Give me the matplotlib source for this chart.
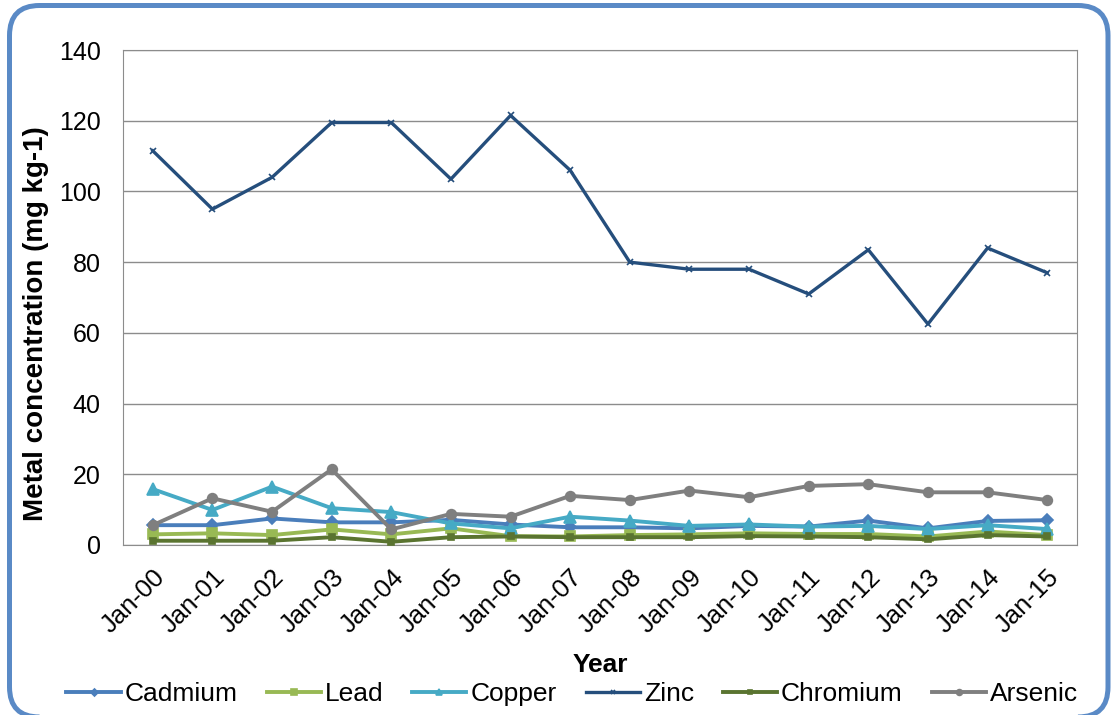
import numpy as np
import matplotlib
matplotlib.use('Agg')
from matplotlib import pyplot as plt
from matplotlib.patches import FancyBboxPatch
from matplotlib.transforms import IdentityTransform

years = ['Jan-%02d' % i for i in range(16)]

cadmium = [5.6, 5.6, 7.5, 6.4, 6.4, 7.1, 5.8, 5.0, 5.0, 4.7, 5.4, 5.2, 6.9, 4.7, 6.8, 7.0]
lead = [3.0, 3.3, 2.8, 4.4, 3.0, 4.7, 2.5, 2.4, 2.8, 3.0, 3.3, 3.1, 3.1, 2.4, 3.8, 2.8]
copper = [15.8, 9.9, 16.5, 10.4, 9.3, 6.1, 4.7, 8.0, 6.9, 5.4, 5.8, 5.2, 5.4, 4.5, 5.6, 4.5]
zinc = [111.5, 95.0, 104.0, 119.5, 119.5, 103.5, 121.5, 106.0, 80.0, 78.0, 78.0, 71.0, 83.5, 62.5, 84.0, 77.0]
chromium = [1.2, 1.2, 1.2, 2.2, 0.9, 2.2, 2.4, 2.2, 2.2, 2.2, 2.5, 2.4, 2.2, 1.6, 2.8, 2.4]
arsenic = [5.6, 13.2, 9.4, 21.4, 4.4, 8.8, 8.0, 13.9, 12.7, 15.4, 13.5, 16.7, 17.2, 14.9, 14.9, 12.7]

plt.rcParams['font.family'] = ['Liberation Sans', 'DejaVu Sans']

def main():
	fig = plt.figure(figsize=(11.11, 7.15), dpi=100)
	ax = fig.add_axes([0.1107, 0.2378, 0.8587, 0.6922])

	x = np.arange(len(years))
	series = [
		('Cadmium', cadmium, '#4A7EBB', 'D', 6),
		('Lead', lead, '#98B954', 's', 6.5),
		('Copper', copper, '#46AAC5', '^', 8),
		('Zinc', zinc, '#254E7C', 'x', 5),
		('Chromium', chromium, '#5A7430', 's', 5),
		('Arsenic', arsenic, '#7F7F7F', 'o', 7),
	]
	for name, vals, col, mk, ms in series:
		ax.plot(x, vals, color=col, lw=2.8 if name != 'Zinc' else 2.4, marker=mk, ms=ms,
				markeredgecolor=col, markeredgewidth=1.2, label=name, zorder=3)

	ax.set_xlim(-0.5, len(years) - 0.5)
	ax.set_ylim(0, 140)
	ax.set_yticks(range(0, 141, 20))
	ax.set_xticks(x)
	ax.tick_params(axis='y', labelsize=18, length=0, pad=16)
	ax.tick_params(axis='x', length=0, pad=14.4)
	ax.set_xticklabels(years, rotation=45, ha='right', va='top',
			rotation_mode='anchor', fontsize=18.5)
	ax.grid(axis='y', color='#8C8C8C', lw=1)
	ax.set_axisbelow(True)
	for s in ax.spines.values():
		s.set_color('#8C8C8C')
	ax.set_ylabel('Metal concentration (mg kg-1)', fontsize=20, fontweight='bold')
	ax.yaxis.set_label_coords(-0.078, 0.448)
	fig.text(0.540, 0.070, 'Year', ha='center', va='center', fontsize=19, fontweight='bold')

	fig.legend(loc='center', bbox_to_anchor=(0.515, 0.029), ncol=6, frameon=False,
			fontsize=19, handlelength=2.05, columnspacing=1.1, handletextpad=0.15,
			markerscale=0.6, borderpad=0, borderaxespad=0)

	# rounded frame round the whole chart, in pixels
	W, H = 1111, 715
	border = FancyBboxPatch((9.5, H - 717), 1108 - 9.5, 717 - 5.5, transform=IdentityTransform(),
			boxstyle='round,pad=0,rounding_size=30', fill=False,
			edgecolor='#5A8AC6', lw=3.6)
	fig.patches.append(border)

	plt.savefig('out.png', dpi=100)

if __name__ == '__main__':
	main()
